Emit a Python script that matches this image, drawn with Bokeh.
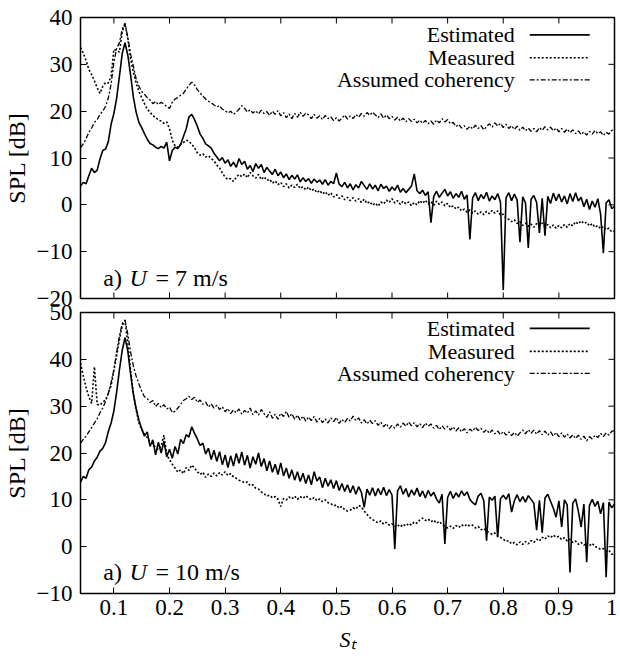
import math
from bokeh.plotting import figure
from bokeh.models import Range1d, FixedTicker, Label
from bokeh.layouts import column
from bokeh.embed import file_html
from bokeh.resources import INLINE

FONT = "Liberation Serif"

# Strouhal-number sampling grid (0.04 ... 1.00, step 0.005)
st = [round(0.04 + 0.005 * i, 3) for i in range(193)]

# ---- panel a) U = 7 m/s ----
est7 = [4.0, 4.8, 4.5, 6.2, 7.8, 6.9, 7.4, 9.8, 11.6, 11.9,
        13.5, 17.2, 19.5, 22.8, 27.5, 32.3, 34.6, 32.0, 27.8, 23.0,
        19.8, 17.6, 16.5, 15.2, 14.0, 13.1, 12.8, 12.3, 12.0, 12.5,
        12.1, 13.4, 9.4, 11.6, 12.3, 12.0, 12.9, 14.6, 16.2, 18.8,
        19.3, 18.2, 16.8, 15.1, 14.2, 13.0, 12.6, 12.1, 11.0, 10.2,
        9.4, 10.1, 8.9, 9.6, 8.2, 9.1, 8.0, 9.9, 8.6, 9.3,
        7.6, 8.4, 7.1, 8.8, 7.8, 8.6, 6.9, 8.0, 7.2, 6.5,
        7.6, 6.2, 7.0, 5.8, 6.6, 5.4, 6.3, 5.5, 6.4, 4.9,
        5.8, 5.0, 5.6, 4.6, 5.5, 4.8, 5.3, 4.4, 5.4, 4.2,
        5.0, 4.5, 6.8, 4.4, 3.9, 4.8, 3.6, 4.5, 3.2, 4.3,
        3.6, 5.0, 4.1, 3.3, 4.5, 3.4, 4.2, 3.0, 4.4, 3.5,
        4.0, 2.9, 3.8, 3.1, 4.2, 2.7, 3.5, 2.6, 3.3, 4.0,
        6.6, 3.0, 2.4, 3.1, 2.0, 2.8, -3.8, 1.8, 2.9, 1.6,
        2.5, 3.3, 1.9, 2.8, 1.4, 2.4, 1.6, 2.9, 1.2, 2.1,
        -7.4, 1.5, 2.6, 0.9, 2.2, 1.3, 2.7, 0.8, 1.9, 1.1,
        2.4, 0.6, -18.2, 1.5, 2.6, 0.9, 2.3, 1.0, -8.0, 1.7,
        0.4, -9.2, 1.2, 2.0, 0.5, -6.0, 1.4, -6.6, 1.8, 0.3,
        2.5, 0.9, 2.3, 0.6, 1.9, 0.2, 2.4, 0.7, 2.6, 0.8,
        1.6, -0.4, 1.2, -1.0, 0.8, -0.5, 1.3, -2.0, -10.3, 0.4,
        1.1, -0.8, -0.3]

meas7 = [33.6, 32.4, 30.8, 28.9, 27.8, 26.5, 25.0, 23.8, 25.3, 26.1,
         26.0, 27.4, 33.2, 33.0, 32.6, 37.0, 38.6, 35.5, 31.2, 28.4,
         26.0, 24.2, 22.9, 21.6, 20.4, 19.8, 19.0, 18.7, 18.1, 17.9,
         17.4, 17.7, 16.2, 13.8, 12.6, 12.3, 12.9, 13.3, 13.8, 13.6,
         12.9, 12.2, 11.1, 10.6, 10.9, 10.2, 10.5, 9.9, 9.4, 8.5,
         7.9, 6.8, 5.9, 5.4, 5.6, 5.0, 5.9, 6.5, 6.0, 6.6,
         5.8, 6.9, 6.2, 5.7, 6.5, 5.4, 6.0, 5.2, 5.5, 4.6,
         5.1, 4.3, 4.8, 3.9, 4.5, 3.6, 4.2, 3.7, 4.4, 3.5,
         3.9, 3.2, 3.8, 3.0, 3.4, 2.6, 3.1, 2.3, 2.8, 2.0,
         2.6, 1.7, 2.2, 1.4, 1.9, 1.1, 1.6, 0.9, 1.5, 0.8,
         1.3, 0.5, 1.2, 0.3, 0.7, -0.1, 0.4, -0.3, 0.6, 0.2,
         1.0, 0.5, 1.3, 0.4, 0.9, 0.1, 0.8, 0.2, 0.6, -0.2,
         0.5, 0.0, 0.9, 0.3, 1.0, 0.2, 0.7, -0.1, 0.8, 0.1,
         0.6, -0.2, 0.3, -0.6, -0.2, -0.9, -0.5, -1.3, -0.9, -1.6,
         -1.1, -1.8, -1.3, -2.0, -1.5, -2.1, -1.4, -1.9, -1.2, -1.8,
         -1.3, -2.2, -2.0, -2.9, -3.1, -3.6, -3.2, -4.0, -3.6, -4.4,
         -3.9, -4.6, -4.1, -4.8, -4.0, -4.5, -3.9, -4.7, -4.2, -4.9,
         -4.3, -5.0, -4.4, -4.9, -4.2, -4.8, -4.0, -4.5, -3.6, -4.1,
         -3.4, -4.0, -3.7, -4.5, -4.0, -4.8, -4.4, -5.1, -4.6, -5.3,
         -5.0, -5.8, -5.6]

coh7 = [12.2, 13.0, 14.1, 15.5, 16.4, 17.6, 18.2, 19.3, 20.0, 21.0,
        22.8, 25.8, 30.5, 33.4, 34.6, 37.5, 38.8, 35.8, 32.2, 29.6,
        26.9, 25.3, 24.2, 23.6, 22.9, 22.4, 21.6, 22.1, 21.4, 21.9,
        21.5, 21.0, 20.6, 21.9, 22.6, 22.9, 23.4, 23.8, 24.7, 25.5,
        26.2, 25.6, 24.6, 23.9, 23.2, 22.6, 22.1, 21.8, 21.3, 20.9,
        21.2, 20.4, 20.1, 19.6, 20.0, 19.3, 19.8, 20.4, 21.2, 20.6,
        19.8, 20.3, 19.6, 20.1, 19.4, 20.2, 19.5, 19.9, 19.1, 20.0,
        19.3, 20.1, 19.0, 19.7, 18.6, 19.4, 18.4, 19.5, 18.7, 19.8,
        18.9, 19.6, 19.2, 18.4, 19.3, 18.5, 19.0, 18.2, 19.1, 18.4,
        18.8, 18.0, 18.6, 17.9, 18.5, 19.2, 18.3, 19.0, 18.4, 19.3,
        18.7, 19.5, 18.9, 19.7, 19.1, 19.8, 19.2, 18.6, 19.4, 18.5,
        19.2, 18.4, 18.9, 18.1, 18.7, 17.9, 18.5, 17.7, 18.4, 17.8,
        18.3, 17.5, 18.1, 17.4, 18.0, 17.3, 17.9, 17.2, 18.1, 17.5,
        18.4, 17.7, 18.2, 17.3, 17.6, 16.7, 17.2, 16.4, 16.9, 16.1,
        16.8, 16.2, 17.0, 16.3, 16.9, 16.0, 16.7, 17.3, 16.6, 17.5,
        16.8, 17.4, 16.5, 17.2, 16.3, 16.9, 16.1, 16.8, 15.9, 16.6,
        15.8, 16.4, 15.7, 16.3, 15.6, 16.5, 15.9, 16.7, 16.0, 16.6,
        15.8, 16.4, 15.6, 16.3, 15.5, 16.2, 15.4, 16.0, 15.2, 15.8,
        15.0, 15.6, 14.9, 15.7, 15.1, 15.9, 15.2, 15.6, 14.8, 15.5,
        15.1, 15.9, 16.0]

# ---- panel a) U = 10 m/s ----
est10 = [13.8, 15.0, 14.6, 16.4, 17.0, 18.3, 19.1, 20.4, 21.0, 22.2,
         24.6, 26.4, 29.0, 33.0, 37.8, 41.9, 44.6, 41.8, 36.9, 32.6,
         29.5, 27.0, 25.2, 23.6, 24.5, 21.4, 22.8, 19.6, 22.3, 20.0,
         22.5, 19.2, 20.8, 18.9, 21.4, 19.8, 22.9, 22.0, 23.9, 23.4,
         25.6, 24.2, 23.0, 21.6, 22.1, 19.8, 21.0, 18.6, 20.6, 18.2,
         20.3, 17.5, 19.6, 16.9, 19.4, 17.2, 19.9, 17.8, 20.2, 17.4,
         19.5, 16.8, 19.2, 17.6, 20.0, 17.1, 18.8, 16.2, 18.3, 15.9,
         17.6, 15.4, 17.9, 15.1, 16.8, 14.6, 16.4, 14.2, 16.0, 13.9,
         15.7, 13.5, 15.3, 13.2, 16.0, 14.0, 14.9, 12.6, 14.6, 12.9,
         14.3, 12.4, 14.1, 12.0, 13.5, 11.8, 13.2, 11.5, 13.0, 11.2,
         12.8, 11.6, 8.4, 12.3, 11.0, 12.6, 10.8, 12.4, 11.1, 12.7,
         10.9, 12.2, 11.0, -0.5, 11.9, 13.0, 11.2, 12.4, 10.6, 12.1,
         11.0, 12.5, 10.7, 11.9, 10.4, 12.0, 10.8, 11.6, 10.2, 9.3,
         11.2, 0.6, 10.5, 11.8, 10.3, 11.5, 10.6, 11.9, 10.9, 11.7,
         10.1, 9.4, 8.9, 10.8, 11.4, 9.8, 1.3, 10.6, 9.9, 10.8,
         2.0, 10.2, 11.0, 10.1, 11.3, 7.4, 9.8, 11.1, 9.6, 10.7,
         9.5, 10.9, 10.1, 9.3, 3.5, 9.9, 3.0, 10.4, 11.2, 9.7,
         8.2, 6.3, 9.8, 4.2, 10.0, 8.9, -5.5, 9.3, 10.2, 7.6,
         4.2, 9.1, -3.3, 8.8, 10.1, 8.6, 9.7, 7.0, 9.4, -6.5,
         9.5, 8.3, 9.1]

meas10 = [39.2, 36.5, 34.0, 32.0, 30.6, 38.4, 30.4, 30.2, 30.9, 31.3,
          32.8, 34.4, 37.6, 40.8, 44.2, 47.2, 48.3, 43.5, 37.6, 32.6,
          29.2, 26.4, 25.0, 24.0, 23.3, 22.4, 21.9, 21.2, 20.7, 21.5,
          23.8, 19.6, 18.6, 17.6, 16.8, 15.9, 16.4, 15.6, 16.9, 16.3,
          17.4, 16.8, 16.0, 15.4, 15.9, 14.8, 15.5, 15.0, 15.7, 15.1,
          15.8, 15.3, 16.0, 15.2, 15.6, 14.9, 14.6, 14.2, 14.0, 13.6,
          13.8, 13.0, 13.2, 12.5, 12.3, 11.7, 11.3, 10.8, 11.0, 10.4,
          10.7, 10.1, 8.6, 10.3, 10.0, 10.6, 10.2, 10.8, 10.1, 10.7,
          10.3, 10.9, 10.4, 10.0, 10.5, 9.8, 10.2, 9.6, 10.0, 9.4,
          9.2, 8.7, 8.9, 8.2, 8.6, 7.9, 7.6, 7.8, 8.3, 8.0,
          8.8, 8.5, 7.6, 6.9, 6.2, 5.8, 5.4, 5.1, 5.5, 4.8,
          5.2, 4.6, 4.9, 4.3, 4.7, 4.2, 4.8, 4.4, 5.0, 4.6,
          5.3, 5.0, 5.7, 6.1, 5.6, 5.9, 5.3, 5.7, 5.0, 5.4,
          4.7, 4.3, 4.0, 4.4, 3.9, 4.5, 4.1, 4.7, 4.3, 4.8,
          4.4, 4.6, 4.0, 4.3, 3.6, 3.9, 3.3, 3.0, 2.6, 2.9,
          2.2, 2.0, 1.6, 1.1, 1.3, 0.6, 0.9, 0.4, 1.0, 0.5,
          1.1, 0.6, 1.3, 0.9, 1.6, 1.2, 2.0, 1.6, 2.3, 1.9,
          2.5, 2.0, 2.2, 1.5, 1.9, 1.2, 1.6, 0.9, 1.2, 0.5,
          0.9, 0.3, 0.8, 0.2, 0.7, 0.0, -0.2, -0.6, -0.4, -1.0,
          -0.8, -1.6, -1.5]

coh10 = [22.1, 22.9, 23.6, 24.5, 25.4, 26.4, 27.3, 28.6, 29.6, 31.0,
         32.7, 35.0, 37.8, 41.5, 45.0, 47.6, 48.4, 45.4, 41.6, 38.6,
         36.4, 34.8, 33.2, 32.0, 31.6, 30.8, 31.2, 29.9, 30.6, 29.7,
         30.3, 29.4, 29.8, 28.6, 28.9, 29.6, 30.4, 31.2, 31.6, 32.1,
         31.4, 31.9, 30.8, 31.3, 30.4, 30.9, 29.8, 30.5, 29.6, 30.2,
         29.3, 29.9, 28.8, 29.5, 28.4, 29.2, 28.6, 29.4, 28.3, 29.1,
         28.5, 29.6, 28.2, 29.0, 28.1, 29.3, 28.4, 27.6, 28.8, 27.4,
         28.3, 27.2, 28.5, 27.8, 28.9, 27.6, 28.4, 27.2, 28.1, 27.0,
         27.9, 26.8, 27.7, 26.9, 27.8, 26.6, 27.4, 26.5, 27.3, 26.4,
         27.5, 26.7, 27.6, 26.3, 27.2, 26.5, 27.4, 26.8, 27.9, 26.9,
         27.5, 26.4, 27.1, 26.2, 27.0, 26.3, 26.9, 25.9, 26.6, 25.6,
         26.3, 25.2, 25.9, 25.3, 26.2, 25.5, 26.4, 25.7, 26.6, 25.8,
         26.5, 25.6, 26.3, 25.4, 26.4, 25.7, 26.2, 25.3, 25.9, 25.0,
         25.8, 25.1, 25.7, 24.9, 25.6, 24.7, 25.4, 24.5, 25.2, 24.3,
         25.1, 24.6, 25.5, 24.8, 25.3, 24.4, 25.0, 24.2, 24.9, 24.1,
         24.7, 23.9, 24.6, 23.8, 24.5, 23.7, 24.4, 23.6, 24.3, 24.9,
         24.1, 25.0, 24.2, 24.9, 24.0, 24.8, 23.9, 24.7, 23.8, 24.5,
         23.6, 24.4, 23.5, 24.3, 23.4, 24.1, 23.2, 23.9, 23.1, 23.8,
         22.9, 23.6, 22.6, 23.5, 23.0, 23.8, 23.3, 24.2, 23.5, 24.3,
         23.8, 24.6, 24.8]

x_ticks = [0.1, 0.2, 0.3, 0.4, 0.5, 0.6, 0.7, 0.8, 0.9, 1.0]
x_tick_labels = ["0.1", "0.2", "0.3", "0.4", "0.5", "0.6", "0.7", "0.8", "0.9", "1"]
y_ticks_top = [-20, -10, 0, 10, 20, 30, 40]
y_ticks_bottom = [-10, 0, 10, 20, 30, 40, 50]

series_names = ["Estimated", "Measured", "Assumed coherency"]
series_styles = [dict(line_width=1.6, line_dash="solid"),
                 dict(line_width=1.6, line_dash="2 2"),
                 dict(line_width=1.3, line_dash="5 2 2 2")]

X_MIN, X_MAX = 0.04, 1.0
FRAME_W, FRAME_H = 534, 281
TICK = 6


def style_axis(ax, ticks):
    ax.ticker = FixedTicker(ticks=ticks)
    ax.major_tick_in = TICK
    ax.major_tick_out = 0
    ax.major_tick_line_color = "black"
    ax.major_tick_line_width = 1
    ax.minor_tick_line_color = None
    ax.axis_line_color = None
    ax.major_label_text_font = FONT
    ax.major_label_text_font_size = "23px"
    ax.major_label_text_color = "black"


def make_panel(est, meas, coh, y_lo, y_hi, y_ticks, bottom, speed, legend_ys, note_y):
    p = figure(frame_width=FRAME_W, frame_height=FRAME_H,
               x_range=Range1d(X_MIN, X_MAX), y_range=Range1d(y_lo, y_hi),
               output_backend="svg", toolbar_location=None,
               min_border_left=78, min_border_right=3,
               min_border_top=13 if bottom else 17,
               min_border_bottom=4 if bottom else 13,
               background_fill_color="white",
               border_fill_color=None if bottom else "white")
    p.grid.visible = False
    p.outline_line_color = "black"
    p.outline_line_width = 1.5
    p.outline_line_alpha = 1.0

    xa = p.xaxis[0]
    if bottom:
        style_axis(xa, x_ticks)
        xa.major_label_overrides = dict(zip(x_ticks, x_tick_labels))
        xa.major_label_standoff = 6
        xa.axis_label = "S\u209c"
        xa.axis_label_text_font = FONT
        xa.axis_label_text_font_size = "22px"
        xa.axis_label_text_font_style = "italic"
        xa.axis_label_text_color = "black"
        xa.axis_label_standoff = 9
    else:
        xa.visible = False
        # inward x ticks on the lower edge of the upper panel
        p.ray(x=x_ticks, y=[y_lo] * len(x_ticks), length=TICK, angle=math.pi / 2,
              length_units="screen", line_color="black", line_width=1)
    ya = p.yaxis[0]
    style_axis(ya, y_ticks)
    ya.major_label_standoff = 8
    ya.axis_label = "SPL [dB]"
    ya.axis_label_text_font = FONT
    ya.axis_label_text_font_size = "24px"
    ya.axis_label_text_font_style = "normal"
    ya.axis_label_text_color = "black"
    ya.axis_label_standoff = 4

    # mirrored inward ticks on the top and right edges (gnuplot style)
    p.ray(x=x_ticks, y=[y_hi] * len(x_ticks), length=TICK, angle=-math.pi / 2,
          length_units="screen", line_color="black", line_width=1)
    p.ray(x=[X_MAX] * len(y_ticks), y=y_ticks, length=TICK, angle=math.pi,
          length_units="screen", line_color="black", line_width=1)

    for vals, style in zip([est, meas, coh], series_styles):
        p.line(st, vals, line_color="black", **style)

    # legend: text right-aligned, sample line on the right (gnuplot style)
    for name, ly, style in zip(series_names, legend_ys, series_styles):
        p.add_layout(Label(x=0.8206, y=ly, text=name, text_align="right",
                           text_baseline="middle", text_font=FONT,
                           text_font_size="22px", text_color="black"))
        p.line([0.8476, 0.9555], [ly, ly], line_color="black", **style)

    # panel annotation "a) U = .. m/s"
    for tx, txt, fs in [(0.081, "a)", "normal"), (0.128, "U", "italic"),
                        (0.175, "=", "normal"), (0.210, speed + " m/s", "normal")]:
        p.add_layout(Label(x=tx, y=note_y, text=txt, text_font=FONT,
                           text_font_style=fs, text_font_size="24px",
                           text_color="black", text_baseline="alphabetic"))
    return p


p_top = make_panel(est7, meas7, coh7, -20, 40, y_ticks_top, False, "7",
                   [36.3, 31.4, 26.7], -15.6)
p_bot = make_panel(est10, meas10, coh10, -10, 50, y_ticks_bottom, True, "10",
                   [46.6, 41.7, 37.0], -5.5)
# let the lower panel's transparent top border overlap the upper panel's bottom border
p_bot.styles = {"margin-top": "-12px"}

layout = column(p_top, p_bot)
open("out.html", "w").write(file_html(layout, INLINE))
